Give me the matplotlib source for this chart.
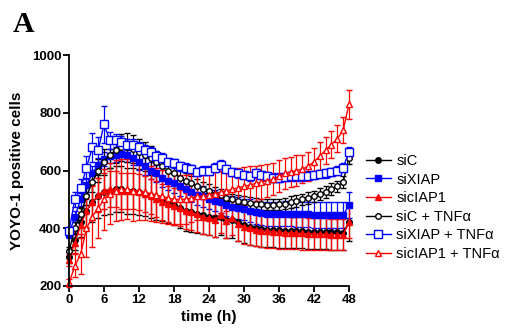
import matplotlib
matplotlib.use("Agg")
import matplotlib.pyplot as plt
from matplotlib.lines import Line2D

# Time course of YOYO-1 positive cells (hourly readings, mean ± error)
time_h = list(range(0, 49))

siC = [300, 360, 420, 460, 490, 510, 525, 530, 535, 535, 530, 530, 525, 520, 510, 505,
       500, 490, 480, 470, 460, 455, 450, 445, 440, 435, 440, 430, 430, 420, 410, 405,
       400, 398, 395, 395, 393, 392, 390, 390, 390, 388, 388, 387, 387, 386, 386, 385, 420]
siC_err = [20, 35, 50, 60, 70, 75, 80, 80, 80, 80, 80, 80, 80, 78, 76, 75,
           74, 72, 70, 70, 68, 68, 66, 66, 65, 65, 64, 64, 63, 63, 62, 62,
           62, 62, 61, 61, 61, 60, 60, 60, 60, 60, 60, 60, 60, 60, 60, 60, 65]

siXIAP = [380, 440, 500, 550, 590, 620, 640, 650, 655, 658, 655, 645, 630, 615, 600, 590,
          575, 565, 555, 545, 535, 525, 515, 510, 500, 495, 490, 480, 475, 470, 465, 460,
          455, 452, 450, 450, 450, 450, 450, 448, 448, 448, 447, 447, 447, 446, 446, 445, 480]
siXIAP_err = [15, 20, 22, 25, 25, 25, 25, 25, 25, 25, 25, 27, 28, 30, 30, 30,
              32, 32, 33, 34, 35, 35, 35, 35, 35, 36, 36, 37, 38, 38, 38, 40,
              40, 40, 42, 42, 42, 43, 43, 44, 44, 44, 45, 45, 45, 45, 45, 45, 45]

sicIAP1 = [290, 350, 410, 460, 490, 515, 530, 535, 535, 530, 530, 528, 525, 520, 510, 500,
           490, 485, 478, 470, 460, 455, 448, 440, 435, 430, 445, 425, 435, 415, 405, 400,
           395, 392, 390, 388, 386, 385, 384, 383, 382, 381, 380, 380, 379, 378, 378, 378, 420]
sicIAP1_err = [20, 35, 45, 55, 60, 60, 62, 62, 62, 62, 62, 62, 62, 62, 62, 62,
               62, 62, 62, 62, 62, 62, 60, 60, 60, 60, 60, 60, 60, 58, 58, 58,
               58, 58, 58, 58, 58, 56, 56, 56, 56, 56, 56, 56, 55, 55, 55, 55, 55]

siC_TNF = [320, 400, 450, 510, 560, 600, 630, 655, 670, 680, 680, 675, 665, 655, 645, 630,
           615, 600, 590, 575, 565, 555, 545, 535, 530, 520, 515, 505, 500, 495, 490, 487,
           485, 483, 482, 482, 483, 485, 490, 495, 500, 505, 510, 518, 525, 535, 545, 560, 645]
siC_TNF_err = [15, 20, 25, 30, 35, 40, 45, 45, 45, 48, 50, 48, 45, 42, 40, 38,
               35, 32, 30, 28, 27, 25, 25, 24, 23, 22, 22, 21, 20, 20, 20, 20,
               20, 20, 20, 20, 20, 20, 20, 20, 20, 20, 20, 20, 20, 20, 20, 20, 22]

siXIAP_TNF = [390, 500, 540, 610, 680, 670, 760, 705, 705, 700, 690, 690, 680, 670, 665, 650,
              645, 630, 625, 615, 610, 605, 595, 600, 600, 610, 620, 605, 595, 590, 585, 580,
              590, 585, 580, 575, 575, 578, 580, 580, 580, 582, 585, 588, 590, 595, 600, 610, 665]
siXIAP_TNF_err = [15, 25, 30, 40, 50, 45, 65, 30, 22, 20, 20, 18, 18, 18, 16, 16,
                  15, 15, 15, 15, 15, 15, 15, 15, 15, 15, 15, 15, 15, 15, 15, 15,
                  15, 15, 15, 15, 15, 15, 15, 15, 15, 15, 15, 15, 15, 15, 15, 15, 15]

sicIAP1_TNF = [210, 270, 310, 400, 440, 470, 500, 520, 530, 535, 535, 530, 530, 525, 520, 515,
               510, 505, 500, 500, 500, 505, 510, 512, 515, 520, 525, 530, 535, 540, 545, 550,
               555, 560, 565, 570, 580, 590, 595, 600, 605, 615, 630, 650, 670, 690, 710, 740, 830]
sicIAP1_TNF_err = [15, 40, 70, 100, 105, 105, 105, 105, 105, 105, 104, 104, 100, 98, 96, 94,
                   92, 90, 88, 86, 84, 82, 80, 78, 76, 74, 72, 70, 70, 68, 66, 64,
                   62, 60, 58, 56, 55, 54, 52, 52, 50, 50, 48, 48, 46, 46, 46, 46, 50]

labels = ["siC", "siXIAP", "sicIAP1", "siC + TNF\u03b1", "siXIAP + TNF\u03b1", "sicIAP1 + TNF\u03b1"]
x_ticks = [0, 6, 12, 18, 24, 30, 36, 42, 48]
y_ticks = [200, 400, 600, 800, 1000]

series = [
    (siC, siC_err, "black", "o", "black", 4.0),
    (siXIAP, siXIAP_err, "#0000ff", "s", "#0000ff", 4.0),
    (sicIAP1, sicIAP1_err, "#ff0000", "^", "#ff0000", 4.5),
    (siC_TNF, siC_TNF_err, "black", "o", "white", 4.0),
    (siXIAP_TNF, siXIAP_TNF_err, "#0000ff", "s", "white", 5.5),
    (sicIAP1_TNF, sicIAP1_TNF_err, "#ff0000", "^", "white", 5.0),
]

plt.rcParams["font.family"] = ["Liberation Sans", "DejaVu Sans"]

W, H = 510, 333
fig = plt.figure(figsize=(W / 100, H / 100), dpi=100)
ax = fig.add_axes([69 / W, (H - 286) / H, 280 / W, 231 / H])

handles = []
for (vals, err, col, mk, face, ms), lab in zip(series, labels):
    ax.errorbar(time_h, vals, yerr=err, color=col, marker=mk, markersize=ms,
                markerfacecolor=face, markeredgecolor=col, markeredgewidth=1.0,
                linewidth=1.0, elinewidth=0.9, capsize=2.3, capthick=0.9,
                clip_on=False)
    handles.append(Line2D([], [], color=col, marker=mk, markersize=ms,
                          markerfacecolor=face, markeredgecolor=col,
                          markeredgewidth=1.0, linewidth=1.0))

ax.set_xlim(0, 48)
ax.set_ylim(200, 1000)
ax.set_xticks(x_ticks)
ax.set_yticks(y_ticks)
ax.spines["top"].set_visible(False)
ax.spines["right"].set_visible(False)
for s in ("left", "bottom"):
    ax.spines[s].set_linewidth(1.3)
ax.tick_params(axis="both", direction="out", length=4, width=1.3, pad=1.5,
               labelsize=9.5)
for t in ax.get_xticklabels() + ax.get_yticklabels():
    t.set_fontweight("bold")

ax.set_xlabel("time (h)", fontsize=11, fontweight="bold", labelpad=3)
ax.set_ylabel("YOYO-1 positive cells", fontsize=11, fontweight="bold", labelpad=6)

fig.text(13 / W, 1 - 32 / H, "A", fontsize=21.5, fontweight="bold",
         family=["Liberation Serif", "DejaVu Serif"], ha="left", va="baseline")

fig.legend(handles=handles, labels=labels, loc="upper left",
           bbox_to_anchor=(360 / W, 1 - 148 / H), frameon=False, fontsize=10.5,
           handlelength=1.7, handletextpad=0.4, labelspacing=0.32, borderaxespad=0)

fig.savefig("out.png", dpi=100)
